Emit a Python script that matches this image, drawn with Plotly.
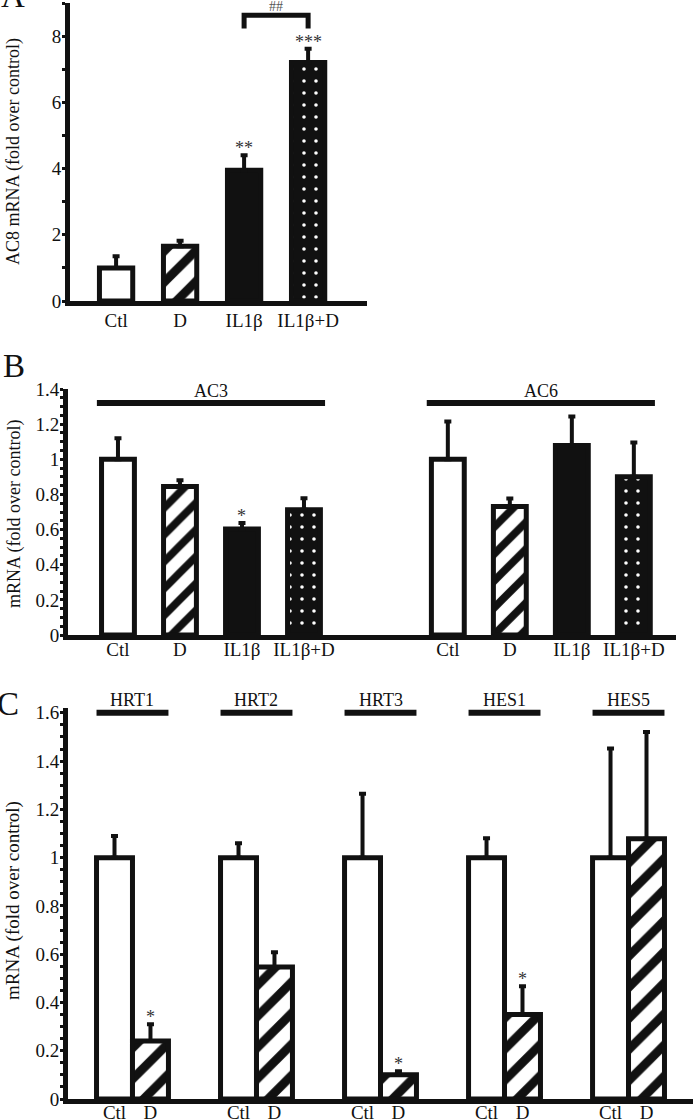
import plotly.graph_objects as go

W, H = 693, 1119
BLACK = "#111111"
FONT = "Liberation Serif"

# ---------------- data ----------------
# Panel A: AC8
a_categories = ["Ctl", "D", "IL1β", "IL1β+D"]
a_values = [1.0, 1.65, 3.95, 7.2]
a_errors = [0.35, 0.17, 0.45, 0.42]
a_marks = ["", "", "**", "***"]
a_comparison = ["IL1β", "IL1β+D"]
a_comparison_mark = "##"

# Panel B: AC3 / AC6
b_groups = ["AC3", "AC6"]
b_categories = ["Ctl", "D", "IL1β", "IL1β+D"]
b_ac3_values = [1.0, 0.845, 0.603, 0.713]
b_ac3_errors = [0.12, 0.035, 0.035, 0.065]
b_ac3_marks = ["", "", "*", ""]
b_ac6_values = [1.0, 0.732, 1.078, 0.9]
b_ac6_errors = [0.215, 0.045, 0.165, 0.195]
b_ac6_marks = ["", "", "", ""]

# Panel C: Notch targets
c_genes = ["HRT1", "HRT2", "HRT3", "HES1", "HES5"]
c_categories = ["Ctl", "D"]
c_ctl_values = [1.0, 1.0, 1.0, 1.0, 1.0]
c_ctl_errors = [0.09, 0.06, 0.265, 0.08, 0.452]
c_ctl_marks = ["", "", "", "", ""]
c_d_values = [0.24, 0.547, 0.10, 0.35, 1.078]
c_d_errors = [0.07, 0.061, 0.015, 0.117, 0.443]
c_d_marks = ["*", "", "*", "*", ""]

# ---------------- styles ----------------
def style(cat, hatch_size):
    if cat == "Ctl":
        return dict(color="white")
    if cat == "D":
        return dict(color="white", pattern=dict(shape="/", fgcolor=BLACK, bgcolor="white",
                                                fgopacity=1, size=hatch_size, solidity=0.4))
    if cat == "IL1β":
        return dict(color=BLACK)
    return dict(color=BLACK, pattern=dict(shape=".", fgcolor="white", bgcolor=BLACK,
                                          fgopacity=1, size=12, solidity=0.07))

fig = go.Figure()


def add_bars(xs, ys, errs, cat, xa, ya, width, hatch_size):
    st = style(cat, hatch_size)
    marker = dict(color=st["color"], line=dict(color=BLACK, width=5))
    if "pattern" in st:
        marker["pattern"] = st["pattern"]
    fig.add_trace(go.Bar(
        x=xs, y=ys, width=[width] * len(xs), marker=marker, xaxis=xa, yaxis=ya,
        error_y=dict(type="data", symmetric=False, array=errs, arrayminus=[0] * len(xs),
                     color=BLACK, thickness=4, width=3.5),
        hoverinfo="skip", showlegend=False,
    ))


annotations = []
shapes = []


def mark(x, y, text, xa, ya, size=18, shift=-5):
    if text:
        annotations.append(dict(x=x, y=y, xref=xa, yref=ya, text=text, showarrow=False,
                                yanchor="bottom", yshift=shift,
                                font=dict(family=FONT, size=size, color="#333333")))


# ---- Panel A ----
a_pos = list(range(len(a_categories)))
a_w = 0.52
for i, cat in enumerate(a_categories):
    add_bars([a_pos[i]], [a_values[i]], [a_errors[i]], cat, "x", "y", a_w, 22)
    mark(a_pos[i], a_values[i] + a_errors[i], a_marks[i], "x", "y")
i1 = a_categories.index(a_comparison[0])
i2 = a_categories.index(a_comparison[1])
br_top, br_bot = 8.63, 8.23
shapes.append(dict(type="path", xref="x", yref="y",
                   path=f"M {a_pos[i1]},{br_bot} L {a_pos[i1]},{br_top} L {a_pos[i2]},{br_top} L {a_pos[i2]},{br_bot}",
                   line=dict(color=BLACK, width=5)))
annotations.append(dict(x=(a_pos[i1] + a_pos[i2]) / 2, y=br_top, xref="x", yref="y",
                        text=a_comparison_mark, showarrow=False, yanchor="bottom", yshift=-1,
                        font=dict(family=FONT, size=14, color="#555555")))

# ---- Panel B ----
b_gap = 5.32
b_w = 0.53
b_series = [(b_ac3_values, b_ac3_errors, b_ac3_marks), (b_ac6_values, b_ac6_errors, b_ac6_marks)]
b_ticks, b_text = [], []
for g, (vals, errs, marks) in enumerate(b_series):
    pos = [g * b_gap + k for k in range(len(b_categories))]
    for k, cat in enumerate(b_categories):
        add_bars([pos[k]], [vals[k]], [errs[k]], cat, "x2", "y2", b_w, 19)
        mark(pos[k], vals[k] + errs[k], marks[k], "x2", "y2")
    b_ticks += pos
    b_text += b_categories
    line_y = 1.32
    shapes.append(dict(type="line", xref="x2", yref="y2", x0=pos[0] - 0.34, x1=pos[-1] + 0.34,
                       y0=line_y, y1=line_y, line=dict(color=BLACK, width=6)))
    annotations.append(dict(x=(pos[0] + pos[-1]) / 2, y=line_y, xref="x2", yref="y2",
                            text=b_groups[g], showarrow=False, yanchor="bottom", yshift=0,
                            font=dict(family=FONT, size=18, color=BLACK)))

# ---- Panel C ----
c_off = 0.145
c_w = 0.29
c_ticks, c_text = [], []
for g, gene in enumerate(c_genes):
    xc, xd = g - c_off, g + c_off
    add_bars([xc], [c_ctl_values[g]], [c_ctl_errors[g]], "Ctl", "x3", "y3", c_w, 22)
    add_bars([xd], [c_d_values[g]], [c_d_errors[g]], "D", "x3", "y3", c_w, 22)
    mark(xc, c_ctl_values[g] + c_ctl_errors[g], c_ctl_marks[g], "x3", "y3")
    mark(xd, c_d_values[g] + c_d_errors[g], c_d_marks[g], "x3", "y3")
    c_ticks += [xc, xd]
    c_text += c_categories
    shapes.append(dict(type="line", xref="x3", yref="y3", x0=xc - c_w / 2, x1=xd + c_w / 2,
                       y0=1.6, y1=1.6, line=dict(color=BLACK, width=6)))
    annotations.append(dict(x=g, y=1.6, xref="x3", yref="y3", text=gene, showarrow=False,
                            yanchor="bottom", yshift=1,
                            font=dict(family=FONT, size=18, color=BLACK)))

# ---- panel letters and axis titles ----
def px_text(xp, yp, text, size, angle=0, xanchor="center", yanchor="middle"):
    annotations.append(dict(x=xp / W, y=1 - yp / H, xref="paper", yref="paper", text=text,
                            showarrow=False, textangle=angle, xanchor=xanchor, yanchor=yanchor,
                            font=dict(family=FONT, size=size, color=BLACK)))

px_text(-1, 16, "A", 33, xanchor="left", yanchor="bottom")
px_text(1, 366, "B", 33, xanchor="left")
px_text(-5, 704, "C", 33, xanchor="left")
px_text(14, 152, "AC8 mRNA (fold over control)", 18, angle=-90)
px_text(14, 514, "mRNA (fold over control)", 18, angle=-90)
px_text(13, 901, "mRNA (fold over control)", 19, angle=-90)

# ---- axes ----
tickfont = dict(family=FONT, size=19, color=BLACK)


def xax(domain, rng, anchor, tickvals, ticktext, standoff):
    return dict(domain=domain, range=rng, anchor=anchor, showline=True, linewidth=5,
                linecolor=BLACK, showgrid=False, zeroline=False, ticks="",
                tickvals=tickvals, ticktext=ticktext, tickfont=tickfont, fixedrange=True,
                automargin=False, ticklabelstandoff=standoff)


def yax(domain, rng, anchor, dtick, minor):
    return dict(domain=domain, range=rng, anchor=anchor, showline=True, linewidth=5,
                linecolor=BLACK, showgrid=False, zeroline=False, ticks="outside",
                ticklen=3, tickwidth=3, tickcolor=BLACK, dtick=dtick, tick0=0,
                tickfont=tickfont, fixedrange=True, automargin=False,
                ticklabelstandoff=-3,
                minor=dict(ticks="outside", ticklen=3, tickwidth=3, tickcolor=BLACK,
                           dtick=minor, tick0=0, showgrid=False))


fig.update_layout(
    width=W, height=H, margin=dict(l=0, r=0, t=0, b=0, pad=0, autoexpand=False),
    paper_bgcolor="white", plot_bgcolor="rgba(0,0,0,0)",
    barmode="overlay", showlegend=False,
    xaxis=xax([70 / W, 367 / W], [-0.72, 3.92], "y", a_pos, a_categories, -2),
    yaxis=yax([1 - 301 / H, 1 - 3 / H], [0, 9.0], "x", 2, 1),
    xaxis2=xax([68 / W, 676 / W], [-0.806, 9.0], "y2", b_ticks, b_text, -7),
    yaxis2=yax([1 - 635 / H, 1 - 389 / H], [0, 1.4], "x2", 0.2, 0.05),
    xaxis3=xax([68 / W, 1.0], [-0.52, 4.52], "y3", c_ticks, c_text, -8),
    yaxis3=yax([1 - 1099 / H, 1 - 708 / H], [0, 1.62], "x3", 0.2, 0.05),
    annotations=annotations, shapes=shapes,
)

fig.write_html("out.html", config={"displayModeBar": False},
               post_script="document.body.style.margin='0';document.body.style.overflow='hidden';")
